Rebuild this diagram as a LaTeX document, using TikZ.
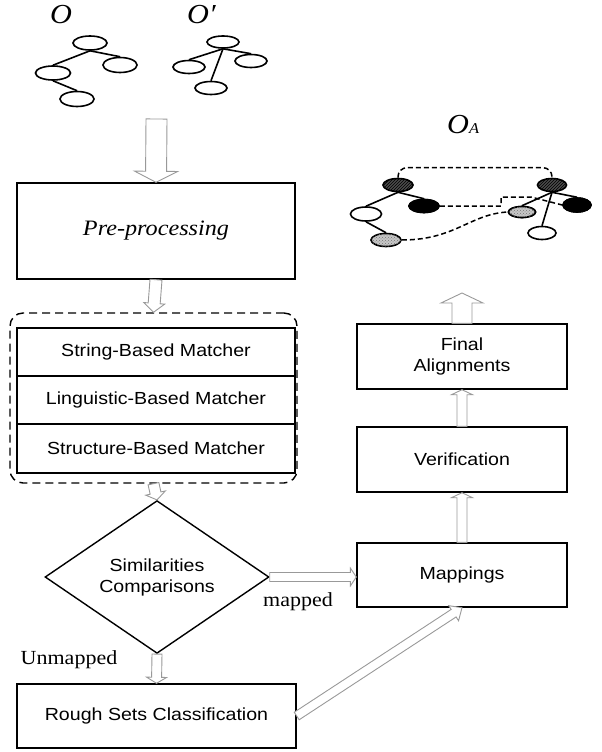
\documentclass[tikz,border=0pt]{standalone}
\usepackage{fontspec}
\setmainfont{Liberation Serif}[FakeStretch=1.1]
\setsansfont{Liberation Sans}[FakeStretch=1.12]
\usetikzlibrary{shapes.geometric,calc,patterns}

% hollow block arrow: start, end, shaft half width, head half width, head length
\newcommand\hollowarrow[5]{%
  \coordinate (ha-h) at ($#2!#5!#1$);
  \draw[hollow] ($#1!#3!90:#2$) -- ($(ha-h)!#3!-90:#1$) -- ($(ha-h)!#4!-90:#1$)
    -- #2 -- ($(ha-h)!#4!90:#1$) -- ($(ha-h)!#3!90:#1$) -- ($#1!#3!-90:#2$) -- cycle;
}

\tikzset{
  hollow/.style={draw=black!40, fill=white, line width=0.9pt, line join=miter},
  box/.style={draw, line width=1.4pt, inner sep=0pt, align=center,
    font=\sffamily\fontsize{17.5}{21}\selectfont},
  lbl/.style={inner sep=0pt, font=\fontsize{20}{24}\selectfont},
  title/.style={inner sep=0pt, anchor=base west, font=\itshape\fontsize{27.5}{30}\selectfont},
  tnode/.style={ellipse, draw, line width=1.6pt, inner sep=0pt, minimum width=32pt, minimum height=13pt},
  tedge/.style={line width=1.6pt},
  hatchfill/.style={fill=black!70, postaction={pattern=north east lines, pattern color=black}},
  dotfill/.style={fill=black!22, postaction={pattern=crosshatch dots, pattern color=black!55}},
  link/.style={line width=1.5pt, dash pattern=on 5pt off 3pt},
}

\begin{document}
\begin{tikzpicture}[x=1pt, y=-1pt]
\useasboundingbox (0,0) rectangle (602,752);

% ---- input ontologies ----
\node[title] (tO) at (50,24) {O};
\node[title] (tOp) at (187,24) {O\symbol{"2032}};

\node[tnode, minimum width=34pt, minimum height=14pt] (o1) at (90,43) {};
\node[tnode, minimum width=34pt, minimum height=15pt] (o2) at (120,65) {};
\node[tnode, minimum width=35pt, minimum height=14pt] (o3) at (53,73) {};
\node[tnode, minimum width=34pt, minimum height=15pt] (o4) at (77,99) {};
\draw[tedge] (o1.south) -- (o3.north);
\draw[tedge] (o1.south) -- (o2.north);
\draw[tedge] (o3.south) -- (o4.north);

\node[tnode, minimum height=12pt] (p1) at (223,42) {};
\node[tnode] (p2) at (251,61) {};
\node[tnode] (p3) at (189,67) {};
\node[tnode] (p4) at (211,88) {};
\draw[tedge] (p1.south) -- (p3.north);
\draw[tedge] (p1.south) -- (p2.north);
\draw[tedge] (p1.south) -- (p4.north);

% ---- aligned ontology ----
\node[title] (tOA) at (447,133) {O{\fontsize{15}{15}\selectfont A}};

\coordinate (kink) at (501,197);
\coordinate (kinkr) at (531,197);
\node[tnode, minimum width=30pt, hatchfill] (a1) at (398,185) {};
\node[tnode, minimum width=30pt, fill=black] (a2) at (424,206) {};
\node[tnode, minimum width=31pt, minimum height=14pt, fill=white] (a3) at (366,214) {};
\node[tnode, minimum width=30pt, dotfill] (a4) at (386,240) {};
\node[tnode, minimum width=29pt, hatchfill] (b1) at (552,185) {};
\node[tnode, minimum width=28pt, minimum height=14pt, fill=black] (b2) at (577,205) {};
\node[tnode, minimum width=27pt, minimum height=11pt, dotfill] (b3) at (522,212) {};
\node[tnode, minimum width=28pt, fill=white] (b4) at (542,233) {};

% dashed correspondences
\draw[link, rounded corners=9pt] (a1.north) -- ++(0,-10) -| (b1.north);
\draw[link] (a2.east) -| (kink) -- (kinkr) -- (b2.west);
\draw[link] (a4.east) .. controls (455,240) and (470,214) .. (b3.west);

% tree edges, with the filled nodes laid again over the links
\draw[tedge] (a1.south) -- (a3.north);
\draw[tedge] (a1.south) -- (a2.north);
\draw[tedge] (a3.south) -- (a4.north);
\node[tnode, minimum width=30pt, fill=black] at (424,206) {};
\node[tnode, minimum width=27pt, minimum height=11pt, dotfill] at (522,212) {};
\node[tnode, minimum width=28pt, minimum height=14pt, fill=black] at (577,205) {};
\draw[tedge] (b1.south) -- (b3.north);
\draw[tedge] (b1.south) -- (b2.north);
\draw[tedge] (b1.south) -- (b4.north);

% ---- left column ----
\node[box, minimum width=278pt, minimum height=96pt,
      font=\itshape\fontsize{22}{26}\selectfont] (pre) at (156,231) {Pre-processing};

\node[draw, line width=1.4pt, dash pattern=on 8pt off 5pt, rounded corners=13pt,
      minimum width=287pt, minimum height=170pt, inner sep=0pt] (grp) at (153.5,398) {};
\node[box, minimum width=278pt, minimum height=48pt] (m1) at (156,352) {String-Based Matcher};
\node[box, minimum width=278pt, minimum height=48pt] (m2) at (156,400) {Linguistic-Based Matcher};
\node[box, minimum width=278pt, minimum height=49pt] (m3) at (156,448.5) {Structure-Based Matcher};

\node[box, diamond, minimum width=224pt, minimum height=112pt] (sim) at (157,577)
  {Similarities\\Comparisons};

\node[box, minimum width=279pt, minimum height=64pt] (rough) at (156.5,716) {Rough Sets Classification};

\node[lbl] (lunm) at (69,660) {Unmapped};
\node[lbl] (lmap) at (298,602) {mapped};

% ---- right column ----
\node[box, minimum width=210pt, minimum height=64pt] (map) at (462,575) {Mappings};
\node[box, minimum width=210pt, minimum height=65pt] (ver) at (462,459.5) {Verification};
\node[box, minimum width=210pt, minimum height=65pt] (fin) at (462,356.5) {Final\\Alignments};

% ---- block arrows ----
\coordinate (src) at (156.5,119);
\coordinate (outA) at (462,293);
\coordinate (mapin) at (map.west |- sim.east);

\hollowarrow{(src)}{(pre.north)}{10.5pt}{21.5pt}{11pt}
\hollowarrow{(pre.south)}{(grp.north)}{6pt}{10.5pt}{9pt}
\hollowarrow{(grp.south)}{(sim.north)}{5.5pt}{10pt}{7pt}
\hollowarrow{(sim.east)}{(mapin)}{4.5pt}{9pt}{6pt}
\hollowarrow{(sim.south)}{(rough.north)}{5pt}{10pt}{6pt}
\hollowarrow{(rough.east)}{(map.south)}{4.5pt}{9pt}{10pt}
\hollowarrow{(map.north)}{(ver.south)}{5pt}{10.5pt}{5pt}
\hollowarrow{(ver.north)}{(fin.south)}{5pt}{10.5pt}{5pt}
\hollowarrow{(fin.north)}{(outA)}{10pt}{21pt}{10pt}
\end{tikzpicture}
\end{document}
